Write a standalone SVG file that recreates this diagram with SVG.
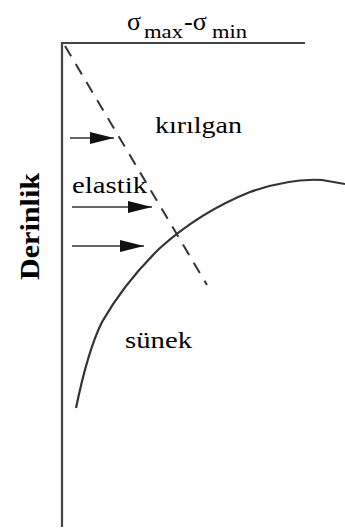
<svg xmlns="http://www.w3.org/2000/svg" width="345" height="531" viewBox="0 0 345 531">
<defs>
<marker id="ah" markerWidth="24" markerHeight="12" refX="24" refY="6" orient="auto" markerUnits="userSpaceOnUse">
<path d="M0,0 L24,6 L0,12 z" fill="#111"/>
</marker>
</defs>
<rect width="345" height="531" fill="#fff"/>
<g id="axes">
<path d="M305,43 L62,43 L62,527" stroke="#444" stroke-width="2.2" fill="none"/>
</g>
<g id="title">
<text x="127" y="30" font-size="26" font-family="Liberation Serif">σ</text>
<text x="144" y="38" font-size="18" font-family="Liberation Serif" textLength="39" lengthAdjust="spacingAndGlyphs">max</text>
<text x="184" y="30" font-size="26" font-family="Liberation Serif">-σ</text>
<text x="212" y="38" font-size="18" font-family="Liberation Serif" textLength="35" lengthAdjust="spacingAndGlyphs">min</text>
</g>
<g id="kirilgan"><text x="155" y="133" font-size="23" font-family="Liberation Serif" textLength="87" lengthAdjust="spacingAndGlyphs">kırılgan</text></g>
<g id="elastik"><text x="72" y="193" font-size="23" font-family="Liberation Serif" textLength="75" lengthAdjust="spacingAndGlyphs">elastik</text></g>
<g id="sunek"><text x="125" y="348" font-size="23" font-family="Liberation Serif" textLength="67" lengthAdjust="spacingAndGlyphs">sünek</text></g>
<g id="derinlik"><text x="0" y="0" font-size="27" font-weight="bold" font-family="Liberation Serif" textLength="107" lengthAdjust="spacingAndGlyphs" transform="translate(39,280) rotate(-90)">Derinlik</text></g>
<g id="connectors" fill="none" stroke="#333">
<path d="M65,46 L207,285" stroke-width="2" stroke-dasharray="12,9"/>
<g stroke-width="1.5">
<path d="M70,138 L114,138" marker-end="url(#ah)"/>
<path d="M72,207 L152,207" marker-end="url(#ah)"/>
<path d="M72,246 L144,246" marker-end="url(#ah)"/>
</g>
<path d="M76,408 Q88,350 102,322 Q125,282 160,248 Q200,212 250,192 Q290,178 322,180 L345,184" stroke-width="2.2"/>
</g>
</svg>
